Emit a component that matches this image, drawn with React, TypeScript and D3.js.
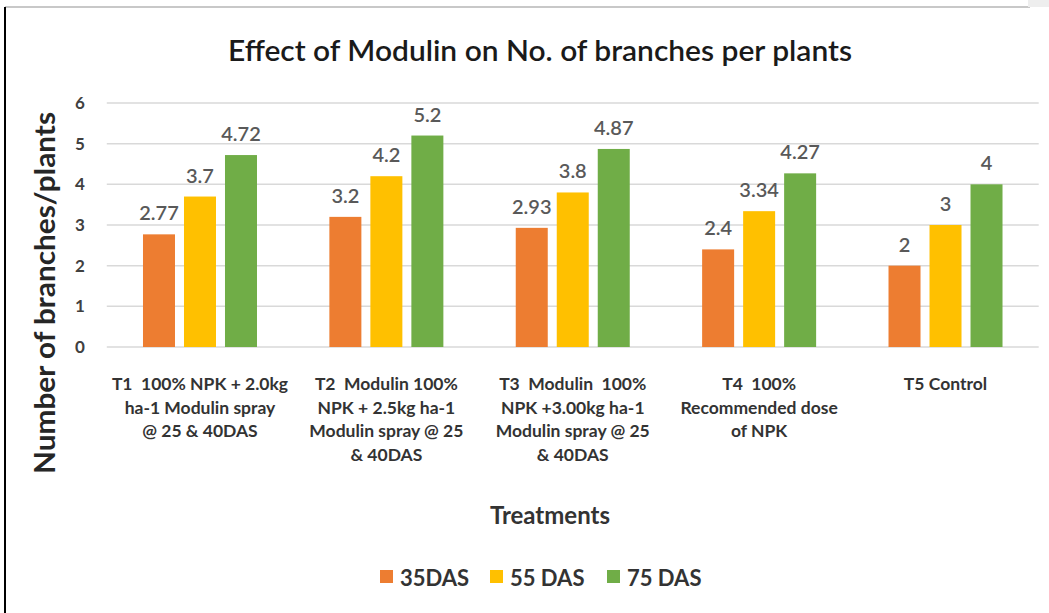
import React from "react";
import * as d3 from "d3";

const categories = ["T1", "T2", "T3", "T4", "T5"];
const categoryLabels: string[][] = [
  ["T1  100% NPK + 2.0kg", "ha-1 Modulin spray", "@ 25 & 40DAS"],
  ["T2  Modulin 100%", "NPK + 2.5kg ha-1", "Modulin spray @ 25", "& 40DAS"],
  ["T3  Modulin  100%", "NPK +3.00kg ha-1", "Modulin spray @ 25", "& 40DAS"],
  ["T4  100%", "Recommended dose", "of NPK"],
  ["T5 Control"],
];
const seriesNames = ["35DAS", "55 DAS", "75 DAS"];
const seriesColors = ["#ED7D31", "#FFC000", "#70AD47"];
const das35 = [2.77, 3.2, 2.93, 2.4, 2];
const das55 = [3.7, 4.2, 3.8, 3.34, 3];
const das75 = [4.72, 5.2, 4.87, 4.27, 4];
const valueLabels = [
  ["2.77", "3.2", "2.93", "2.4", "2"],
  ["3.7", "4.2", "3.8", "3.34", "3"],
  ["4.72", "5.2", "4.87", "4.27", "4"],
];
const yTicks = [0, 1, 2, 3, 4, 5, 6];

const FONT = "Lato, 'Open Sans', sans-serif";

export default function App() {
  const W = 1049;
  const H = 613;
  const left = 106.8;
  const right = 1038.7;
  const y = d3.scaleLinear().domain([0, 6]).range([347, 103]);
  const x0 = d3.scaleBand().domain(categories).range([left, right]);
  const series = [das35, das55, das75];
  const barW = 32;
  const step = 41;

  return (
    <svg
      width={W}
      height={H}
      style={{ position: "absolute", left: 0, top: 0, background: "#fff" }}
    >
      <rect x={0} y={0} width={W} height={H} fill="#ffffff" />
      <line x1={5} x2={1030} y1={7} y2={7} stroke="#c8c8c8" strokeWidth={2} />
      <rect x={1028} y={0} width={21} height={7} fill="#eeeeee" />
      <line x1={5} x2={5} y1={7} y2={H} stroke="#000" strokeWidth={2} />

      <text
        x={540}
        y={61}
        textAnchor="middle"
        fontFamily={FONT}
        fontSize={29}
        fontWeight={600}
        fill="#1a1a1a"
        textLength={624}
        lengthAdjust="spacingAndGlyphs"
      >
        Effect of Modulin on No. of branches per plants
      </text>

      {yTicks.map((t) => (
        <line
          key={t}
          x1={left}
          x2={right}
          y1={y(t)}
          y2={y(t)}
          stroke="#d9d9d9"
          strokeWidth={1.5}
        />
      ))}
      {yTicks.map((t) => (
        <text
          key={"yt" + t}
          x={80}
          y={y(t) + 6}
          textAnchor="middle"
          fontFamily={FONT}
          fontWeight="bold"
          fontSize={17}
          fill="#404040"
        >
          {t}
        </text>
      ))}

      <text
        transform={`translate(55, 293) rotate(-90)`}
        textAnchor="middle"
        fontFamily={FONT}
        fontWeight="bold"
        fontSize={28}
        fill="#262626"
        textLength={362}
        lengthAdjust="spacingAndGlyphs"
      >
        Number of branches/plants
      </text>

      {categories.map((c, ci) => {
        const cx = (x0(c) as number) + x0.bandwidth() / 2;
        return (
          <g key={c}>
            {series.map((s, si) => {
              const bx = cx + (si - 1) * step - barW / 2;
              return (
                <g key={si}>
                  <rect
                    x={bx}
                    y={y(s[ci])}
                    width={barW}
                    height={y(0) - y(s[ci])}
                    fill={seriesColors[si]}
                  />
                  <text
                    x={bx + barW / 2}
                    y={y(s[ci]) - 14}
                    textAnchor="middle"
                    fontFamily={FONT}
                    fontSize={20}
                    fontWeight={600}
                    fill="#595959"
                  >
                    {valueLabels[si][ci]}
                  </text>
                </g>
              );
            })}
            {categoryLabels[ci].map((line, li) => (
              <text
                key={li}
                x={cx}
                y={390 + li * 23.5}
                textAnchor="middle"
                fontFamily={FONT}
                fontWeight="bold"
                fontSize={17.5}
                fill="#333333"
                style={{ whiteSpace: "pre" }}
              >
                {line}
              </text>
            ))}
          </g>
        );
      })}

      <text
        x={550}
        y={524}
        textAnchor="middle"
        fontFamily={FONT}
        fontWeight="bold"
        fontSize={24}
        fill="#333333"
      >
        Treatments
      </text>

      {seriesNames.map((n, i) => {
        const lx = [380, 490, 607][i];
        return (
          <g key={n}>
            <rect x={lx} y={570} width={13} height={13} fill={seriesColors[i]} />
            <text
              x={lx + 20}
              y={586}
              fontFamily={FONT}
              fontWeight="bold"
              fontSize={22}
              fill="#333333"
            >
              {n}
            </text>
          </g>
        );
      })}
    </svg>
  );
}
